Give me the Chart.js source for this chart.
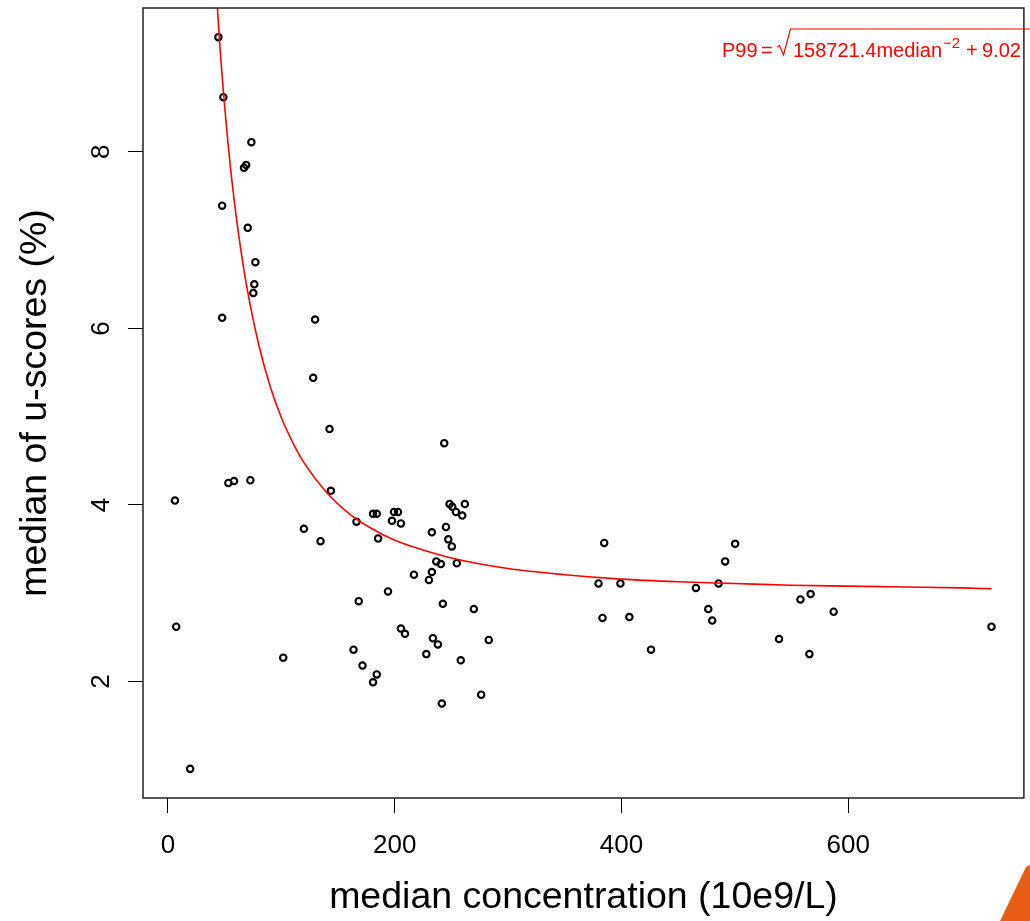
<!DOCTYPE html>
<html>
<head>
<meta charset="utf-8">
<title>median of u-scores vs median concentration</title>
<script src="https://cdn.jsdelivr.net/npm/chart.js"></script>
<style>
  html, body { margin: 0; padding: 0; background: #fff; }
  canvas { display: block; }
</style>
</head>
<body>
<canvas id="canvas" width="1030" height="921"></canvas>
<script>
// observed points: median concentration (10e9/L) and median of u-scores (%)
var concX = [44.5, 48.9, 73.6, 69.0, 67.1, 47.8, 70.4, 77.1, 76.2, 75.3,
    47.8, 129.8, 128.1, 142.5, 6.2, 53.3, 58.3, 72.7, 143.7, 166.3,
    119.9, 134.6, 7.3, 101.7, 168.3, 163.7, 171.6, 184.2, 180.9, 19.6,
    243.7, 180.9, 184.2, 199.4, 202.9, 197.6, 205.5, 185.4, 232.8, 245.2,
    247.3, 250.4, 248.4, 250.8, 254.0, 259.6, 261.9, 236.7, 240.7, 254.8,
    232.8, 230.2, 217.0, 194.1, 242.5, 269.8, 205.5, 209.1, 233.7, 238.1,
    283.0, 227.9, 258.3, 276.3, 241.6, 384.8, 500.3, 491.5, 379.8, 399.1,
    465.7, 485.7, 476.6, 480.1, 383.3, 407.0, 426.1, 557.9, 566.9, 587.2,
    539.0, 565.8, 726.4];
var uScore = [9.30, 8.62, 8.11, 7.85, 7.82, 7.39, 7.14, 6.75, 6.50, 6.40,
    6.12, 6.10, 5.44, 4.86, 4.05, 4.25, 4.27, 4.28, 4.16, 3.81,
    3.73, 3.59, 2.62, 2.27, 2.91, 2.36, 2.18, 2.08, 1.99, 1.01,
    4.70, 3.90, 3.90, 3.92, 3.92, 3.82, 3.79, 3.62, 3.69, 3.75,
    3.61, 3.53, 4.01, 3.98, 3.92, 3.88, 4.01, 3.36, 3.33, 3.34,
    3.24, 3.15, 3.21, 3.02, 2.88, 2.82, 2.60, 2.54, 2.49, 2.42,
    2.47, 2.31, 2.24, 1.85, 1.75, 3.57, 3.56, 3.36, 3.11, 3.11,
    3.06, 3.11, 2.82, 2.69, 2.72, 2.73, 2.36, 2.93, 2.99, 2.79,
    2.48, 2.31, 2.62];

// red P99 curve
var curveX = [40, 45, 50, 55, 60, 65, 70, 80, 90, 100, 110, 120, 140, 160, 180,
    200, 225, 250, 300, 350, 400, 450, 500, 550, 600, 650, 700, 726.4];
var curveY = [10.40, 9.35, 8.52, 7.84, 7.29, 6.83, 6.44, 5.82, 5.35, 4.99, 4.71, 4.48,
    4.14, 3.90, 3.73, 3.60, 3.49, 3.40, 3.28, 3.21, 3.16, 3.13, 3.11, 3.09,
    3.08, 3.07, 3.06, 3.05];

var xTicks = [0, 200, 400, 600];
var yTicks = [2, 4, 6, 8];
var xLabel = 'median concentration (10e9/L)';
var yLabel = 'median of u-scores (%)';

Chart.defaults.font.family = "'Liberation Sans', Arial, Helvetica, sans-serif";
Chart.defaults.color = '#000';

var points = concX.map(function(x, i){ return {x: x, y: uScore[i]}; });
var curve = curveX.map(function(x, i){ return {x: x, y: curveY[i]}; });

// box around the plot, formula text and the corner decoration
var extras = {
    id: 'extras',
    afterDraw: function(chart){
        var ctx = chart.ctx;
        var a = chart.chartArea;
        ctx.save();
        ctx.strokeStyle = '#222';
        ctx.lineWidth = 1.5;
        ctx.strokeRect(a.left, a.top, a.right - a.left, a.bottom - a.top);

        ctx.fillStyle = 'red';
        ctx.strokeStyle = 'red';
        ctx.textBaseline = 'alphabetic';
        ctx.textAlign = 'left';
        ctx.font = "20px 'Liberation Sans', Arial, sans-serif";
        ctx.fillText('P99', 722, 57);
        ctx.fillText('=', 761, 57);
        var x = 793;
        ctx.fillText('158721.4median', x, 57);
        x += ctx.measureText('158721.4median').width + 1;
        ctx.font = "15px 'Liberation Sans', Arial, sans-serif";
        ctx.fillText('\u22122', x, 48);
        ctx.font = "20px 'Liberation Sans', Arial, sans-serif";
        ctx.fillText('+', 966, 57);
        ctx.fillText('9.02', 982, 57);
        ctx.lineWidth = 1.2;
        ctx.beginPath();
        ctx.moveTo(777, 47);
        ctx.lineTo(779.5, 45.5);
        ctx.lineTo(783.5, 55);
        ctx.lineTo(790.5, 29);
        ctx.lineTo(1030, 29);
        ctx.stroke();

        ctx.fillStyle = '#e95e17';
        ctx.beginPath();
        ctx.moveTo(1000, 921);
        ctx.lineTo(1026, 867);
        ctx.lineTo(1030, 865);
        ctx.lineTo(1030, 921);
        ctx.closePath();
        ctx.fill();
        ctx.restore();
    }
};

var ctx = document.getElementById('canvas').getContext('2d');
var myChart = new Chart(ctx, {
    type: 'scatter',
    data: {
        datasets: [{
            label: 'P99',
            data: curve,
            showLine: true,
            borderColor: 'red',
            borderWidth: 1.6,
            pointRadius: 0,
            cubicInterpolationMode: 'monotone'
        },
        {
            label: 'median of u-scores',
            data: points,
            pointRadius: 3.2,
            pointBorderWidth: 2.1,
            borderColor: '#000',
            backgroundColor: 'rgba(0,0,0,0)'
        }]
    },
    options: {
        responsive: false,
        animation: false,
        devicePixelRatio: 1,
        layout: { padding: { top: 8, right: 5, left: 0, bottom: 0 } },
        plugins: {
            legend: { display: false },
            tooltip: { enabled: false }
        },
        scales: {
            x: {
                type: 'linear',
                min: -22,
                max: 755,
                afterFit: function(s){
                    s.height = 123;
                    s.paddingLeft = 0; s.paddingRight = 0;
                    s.paddingTop = 0; s.paddingBottom = 0;
                },
                afterBuildTicks: function(s){
                    s.ticks = xTicks.map(function(v){ return {value: v}; });
                },
                grid: { drawOnChartArea: false, drawTicks: true, tickLength: 15, color: '#000', lineWidth: 1 },
                border: { display: false },
                ticks: { font: { size: 26 }, padding: 17, maxRotation: 0, color: '#000' },
                title: { display: true, text: xLabel, font: { size: 37.5 }, padding: { top: 0, bottom: 1 }, color: '#000' }
            },
            y: {
                type: 'linear',
                min: 0.68,
                max: 9.63,
                afterFit: function(s){
                    s.width = 143;
                    s.paddingLeft = 0; s.paddingRight = 0;
                    s.paddingTop = 0; s.paddingBottom = 0;
                },
                afterBuildTicks: function(s){
                    s.ticks = yTicks.map(function(v){ return {value: v}; });
                },
                grid: { drawOnChartArea: false, drawTicks: true, tickLength: 15, color: '#000', lineWidth: 1 },
                border: { display: false },
                ticks: { font: { size: 26 }, padding: 19, minRotation: 90, maxRotation: 90, crossAlign: 'center', color: '#000' },
                title: { display: true, text: yLabel, font: { size: 37.5 }, padding: { top: 13, bottom: 0 }, color: '#000' }
            }
        }
    },
    plugins: [extras]
});
</script>
</body>
</html>
